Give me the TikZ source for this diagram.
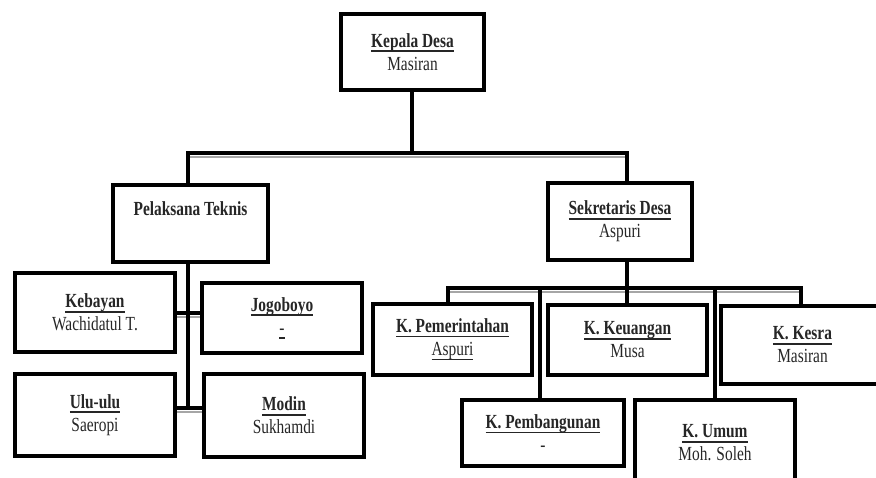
\documentclass[tikz,border=0pt]{standalone}
\usepackage{fontspec}
\setmainfont{Liberation Serif}[FakeStretch=0.77]
\newcommand\myul[1]{\setbox0\hbox{#1}\rlap{\rule[-4.8pt]{\wd0}{1.7pt}}\box0}
\newcommand\ttl[1]{\myul{\textbf{#1}}}
\begin{document}
\begin{tikzpicture}[x=1pt,y=-1pt,
  orgbox/.style={draw=black,line width=4pt,rectangle,align=center,inner sep=0pt,
    font=\fontsize{20}{23}\selectfont,text=black!85},
  conn/.style={line width=3.4pt,line cap=rect},
  shad/.style={line width=2pt,black!35}]
\useasboundingbox (0,0) rectangle (876,478);
% boxes
\node[orgbox,minimum width=143,minimum height=76] (kd) at (412.5,52) {\ttl{Kepala Desa}\\Masiran};
\node[orgbox,minimum width=155,minimum height=77] (pt) at (190.5,223.5) {\textbf{Pelaksana Teknis}\\\strut};
\node[orgbox,minimum width=144,minimum height=77] (sd) at (620,221.5) {\ttl{Sekretaris Desa}\\Aspuri};
\node[orgbox,minimum width=160,minimum height=79] (keb) at (95,312.5) {\ttl{Kebayan}\\Wachidatul T.};
\node[orgbox,minimum width=160,minimum height=70] (jog) at (282,318) {\ttl{Jogoboyo}\\\myul{-}};
\node[orgbox,minimum width=160,minimum height=82] (ulu) at (95,415) {\ttl{Ulu-ulu}\\Saeropi};
\node[orgbox,minimum width=160,minimum height=83] (mod) at (284,415.5) {\ttl{Modin}\\Sukhamdi};
\node[orgbox,minimum width=159,minimum height=71] (pem) at (452.5,339.5) {\ttl{K. Pemerintahan}\\\myul{Aspuri}};
\node[orgbox,minimum width=159,minimum height=70] (keu) at (627.5,340) {\ttl{K. Keuangan}\\Musa};
\node[orgbox,minimum width=163,minimum height=78] (kes) at (802.5,345) {\ttl{K. Kesra}\\Masiran};
\node[orgbox,minimum width=162,minimum height=66] (pbg) at (543,433) {\ttl{K. Pembangunan}\\-};
\node[orgbox,minimum width=160,minimum height=86] (umu) at (715,443) {\ttl{K. Umum}\\Moh. Soleh};
% junction coordinates
\coordinate (b1) at (188,153);
\coordinate (b2) at (627,153);
\coordinate (kdj) at (412,153);
\coordinate (vl1) at (188,313);
\coordinate (vl2) at (188,408);
\coordinate (s0) at (627,288);
\coordinate (sL) at (448,288);
\coordinate (sR) at (801,288);
% shadows
\draw[shad] ([yshift=-4]b1) -- ([yshift=-4]b2);
\draw[shad] ([yshift=-4]sL) -- ([yshift=-4]sR);
\draw[shad] ([yshift=-4]keb.east|-vl1) -- ([yshift=-4]jog.west|-vl1);
\draw[shad] ([yshift=-4]ulu.east|-vl2) -- ([yshift=-4]mod.west|-vl2);
% connectors
\draw[conn] (kd.south-|kdj) -- (kdj);
\draw[conn] (pt.north-|b1) -- (b1) -- (b2) -- (sd.north-|b2);
\draw[conn] (pt.south-|b1) -- (vl2);
\draw[conn] (keb.east|-vl1) -- (jog.west|-vl1);
\draw[conn] (ulu.east|-vl2) -- (mod.west|-vl2);
\draw[conn] (sd.south-|s0) -- (s0);
\draw[conn] (pem.north-|sL) -- (sL) -- (sR) -- (kes.north-|sR);
\draw[conn] (s0) -- (keu.north-|s0);
\draw[conn] (540,288) -- (pbg.north-|540,0);
\draw[conn] (715,288) -- (umu.north);
\end{tikzpicture}
\end{document}
